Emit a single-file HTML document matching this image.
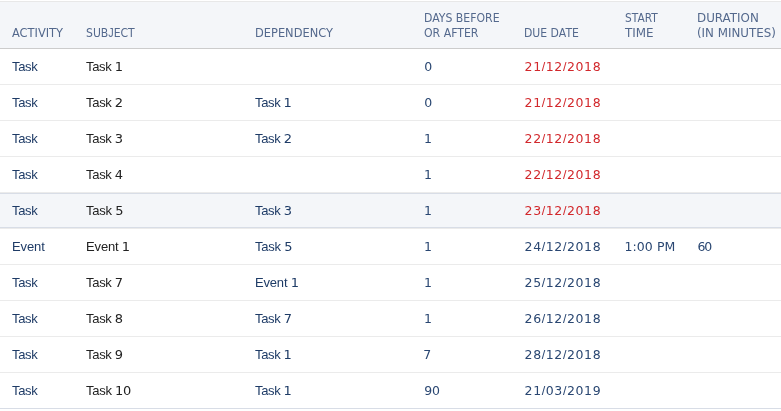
<!DOCTYPE html>
<html><head><meta charset="utf-8"><style>
html,body{margin:0;padding:0;background:#fff;}
body{width:781px;height:411px;overflow:hidden;position:relative;}
#w{position:absolute;left:0;top:0;width:781px;height:411px;will-change:transform;}
.l{position:absolute;left:0;width:781px;height:1px;}
.t{position:absolute;white-space:nowrap;line-height:20px;}
</style></head>
<body><div id="w">
<div class="l" style="top:1px;background:#e8e8e8"></div>
<div style="position:absolute;left:0;top:2px;width:781px;height:46px;background:#f4f6f9"></div>
<div class="l" style="top:48px;background:#cccccc"></div>
<div class="l" style="top:84px;background:#ebebeb"></div>
<div class="l" style="top:120px;background:#ebebeb"></div>
<div class="l" style="top:156px;background:#ebebeb"></div>
<div class="l" style="top:192px;background:#ebebeb"></div>
<div class="l" style="top:228px;background:#ebebeb"></div>
<div class="l" style="top:264px;background:#ebebeb"></div>
<div class="l" style="top:300px;background:#ebebeb"></div>
<div class="l" style="top:336px;background:#ebebeb"></div>
<div class="l" style="top:372px;background:#ebebeb"></div>
<div class="l" style="top:408px;background:#d8dde6"></div>
<div style="position:absolute;left:0;top:193px;width:781px;height:35px;background:#f4f6f9;box-shadow:inset 0 1px 0 #d8dde6,inset 0 -1px 0 #d8dde6"></div>
<div class="t" style="left:12.2px;top:23px;font-size:12px;font-family:'DejaVu Sans', sans-serif;letter-spacing:0px;color:#54698d;transform:scaleX(0.9519);transform-origin:0 0">ACTIVITY</div>
<div class="t" style="left:86.0px;top:23px;font-size:12px;font-family:'DejaVu Sans', sans-serif;letter-spacing:0px;color:#54698d;transform:scaleX(0.9037);transform-origin:0 0">SUB<span style="font-family:'Liberation Sans',sans-serif">J</span>ECT</div>
<div class="t" style="left:255.4px;top:23px;font-size:12px;font-family:'DejaVu Sans', sans-serif;letter-spacing:0px;color:#54698d;transform:scaleX(0.9512);transform-origin:0 0">DEPENDENCY</div>
<div class="t" style="left:424.1px;top:8px;font-size:12px;font-family:'DejaVu Sans', sans-serif;letter-spacing:0px;color:#54698d;transform:scaleX(0.9084);transform-origin:0 0">DAYS BEFORE</div>
<div class="t" style="left:424.1px;top:23px;font-size:12px;font-family:'DejaVu Sans', sans-serif;letter-spacing:0px;color:#54698d;transform:scaleX(0.9117);transform-origin:0 0">OR AFTER</div>
<div class="t" style="left:524.4px;top:23px;font-size:12px;font-family:'DejaVu Sans', sans-serif;letter-spacing:0px;color:#54698d;transform:scaleX(0.9049);transform-origin:0 0">DUE DATE</div>
<div class="t" style="left:625.0px;top:8px;font-size:12px;font-family:'DejaVu Sans', sans-serif;letter-spacing:0px;color:#54698d;transform:scaleX(0.8842);transform-origin:0 0">START</div>
<div class="t" style="left:625.0px;top:23px;font-size:12px;font-family:'DejaVu Sans', sans-serif;letter-spacing:0px;color:#54698d;transform:scaleX(0.9931);transform-origin:0 0">TIME</div>
<div class="t" style="left:697.3px;top:8px;font-size:12px;font-family:'DejaVu Sans', sans-serif;letter-spacing:0px;color:#54698d;transform:scaleX(0.9903);transform-origin:0 0">DURATION</div>
<div class="t" style="left:697.0px;top:23px;font-size:12px;font-family:'DejaVu Sans', sans-serif;letter-spacing:0px;color:#54698d;transform:scaleX(0.9875);transform-origin:0 0">(IN MINUTES)</div>
<div class="t" style="left:12px;top:57px;font-size:13px;font-family:'Liberation Sans', sans-serif;letter-spacing:-0.367px;color:#1e3b66">Task</div>
<div class="t" style="left:86.1px;top:57px;font-size:13px;font-family:'Liberation Sans', sans-serif;letter-spacing:-0.36px;color:#222222">Task <span style="font-family:'DejaVu Sans',sans-serif">1</span></div>
<div class="t" style="left:424.3px;top:57px;font-size:12.5px;font-family:'DejaVu Sans', sans-serif;letter-spacing:0px;color:#2a4772">0</div>
<div class="t" style="left:524.6px;top:57px;font-size:12.5px;font-family:'DejaVu Sans', sans-serif;letter-spacing:0.6px;color:#d2282c">21<span style="font-family:'Liberation Sans',sans-serif">/</span>12<span style="font-family:'Liberation Sans',sans-serif">/</span>2018</div>
<div class="t" style="left:12px;top:93px;font-size:13px;font-family:'Liberation Sans', sans-serif;letter-spacing:-0.367px;color:#1e3b66">Task</div>
<div class="t" style="left:86.1px;top:93px;font-size:13px;font-family:'Liberation Sans', sans-serif;letter-spacing:-0.32px;color:#222222">Task <span style="font-family:'DejaVu Sans',sans-serif">2</span></div>
<div class="t" style="left:255px;top:93px;font-size:13px;font-family:'Liberation Sans', sans-serif;letter-spacing:-0.36px;color:#1e3b66">Task <span style="font-family:'DejaVu Sans',sans-serif">1</span></div>
<div class="t" style="left:424.3px;top:93px;font-size:12.5px;font-family:'DejaVu Sans', sans-serif;letter-spacing:0px;color:#2a4772">0</div>
<div class="t" style="left:524.6px;top:93px;font-size:12.5px;font-family:'DejaVu Sans', sans-serif;letter-spacing:0.6px;color:#d2282c">21<span style="font-family:'Liberation Sans',sans-serif">/</span>12<span style="font-family:'Liberation Sans',sans-serif">/</span>2018</div>
<div class="t" style="left:12px;top:129px;font-size:13px;font-family:'Liberation Sans', sans-serif;letter-spacing:-0.367px;color:#1e3b66">Task</div>
<div class="t" style="left:86.1px;top:129px;font-size:13px;font-family:'Liberation Sans', sans-serif;letter-spacing:-0.32px;color:#222222">Task <span style="font-family:'DejaVu Sans',sans-serif">3</span></div>
<div class="t" style="left:255px;top:129px;font-size:13px;font-family:'Liberation Sans', sans-serif;letter-spacing:-0.32px;color:#1e3b66">Task <span style="font-family:'DejaVu Sans',sans-serif">2</span></div>
<div class="t" style="left:424px;top:129px;font-size:12.5px;font-family:'DejaVu Sans', sans-serif;letter-spacing:0px;color:#2a4772">1</div>
<div class="t" style="left:524.6px;top:129px;font-size:12.5px;font-family:'DejaVu Sans', sans-serif;letter-spacing:0.6px;color:#d2282c">22<span style="font-family:'Liberation Sans',sans-serif">/</span>12<span style="font-family:'Liberation Sans',sans-serif">/</span>2018</div>
<div class="t" style="left:12px;top:165px;font-size:13px;font-family:'Liberation Sans', sans-serif;letter-spacing:-0.367px;color:#1e3b66">Task</div>
<div class="t" style="left:86.1px;top:165px;font-size:13px;font-family:'Liberation Sans', sans-serif;letter-spacing:-0.32px;color:#222222">Task <span style="font-family:'DejaVu Sans',sans-serif">4</span></div>
<div class="t" style="left:424px;top:165px;font-size:12.5px;font-family:'DejaVu Sans', sans-serif;letter-spacing:0px;color:#2a4772">1</div>
<div class="t" style="left:524.6px;top:165px;font-size:12.5px;font-family:'DejaVu Sans', sans-serif;letter-spacing:0.6px;color:#d2282c">22<span style="font-family:'Liberation Sans',sans-serif">/</span>12<span style="font-family:'Liberation Sans',sans-serif">/</span>2018</div>
<div class="t" style="left:12px;top:201px;font-size:13px;font-family:'Liberation Sans', sans-serif;letter-spacing:-0.367px;color:#1e3b66">Task</div>
<div class="t" style="left:86.1px;top:201px;font-size:13px;font-family:'Liberation Sans', sans-serif;letter-spacing:-0.24px;color:#222222">Task <span style="font-family:'DejaVu Sans',sans-serif">5</span></div>
<div class="t" style="left:255px;top:201px;font-size:13px;font-family:'Liberation Sans', sans-serif;letter-spacing:-0.32px;color:#1e3b66">Task <span style="font-family:'DejaVu Sans',sans-serif">3</span></div>
<div class="t" style="left:424px;top:201px;font-size:12.5px;font-family:'DejaVu Sans', sans-serif;letter-spacing:0px;color:#2a4772">1</div>
<div class="t" style="left:524.6px;top:201px;font-size:12.5px;font-family:'DejaVu Sans', sans-serif;letter-spacing:0.6px;color:#d2282c">23<span style="font-family:'Liberation Sans',sans-serif">/</span>12<span style="font-family:'Liberation Sans',sans-serif">/</span>2018</div>
<div class="t" style="left:12px;top:237px;font-size:13px;font-family:'Liberation Sans', sans-serif;letter-spacing:-0.1px;color:#1e3b66">Event</div>
<div class="t" style="left:86.1px;top:237px;font-size:13px;font-family:'Liberation Sans', sans-serif;letter-spacing:-0.183px;color:#222222">Event <span style="font-family:'DejaVu Sans',sans-serif">1</span></div>
<div class="t" style="left:255px;top:237px;font-size:13px;font-family:'Liberation Sans', sans-serif;letter-spacing:-0.24px;color:#1e3b66">Task <span style="font-family:'DejaVu Sans',sans-serif">5</span></div>
<div class="t" style="left:424px;top:237px;font-size:12.5px;font-family:'DejaVu Sans', sans-serif;letter-spacing:0px;color:#2a4772">1</div>
<div class="t" style="left:524.6px;top:237px;font-size:12.5px;font-family:'DejaVu Sans', sans-serif;letter-spacing:0.6px;color:#2a4772">24<span style="font-family:'Liberation Sans',sans-serif">/</span>12<span style="font-family:'Liberation Sans',sans-serif">/</span>2018</div>
<div class="t" style="left:624.6px;top:237px;font-size:12.5px;font-family:'DejaVu Sans', sans-serif;letter-spacing:0.05px;color:#2a4772">1:00 PM</div>
<div class="t" style="left:697.4px;top:237px;font-size:12.5px;font-family:'DejaVu Sans', sans-serif;letter-spacing:-1.2px;color:#2a4772">60</div>
<div class="t" style="left:12px;top:273px;font-size:13px;font-family:'Liberation Sans', sans-serif;letter-spacing:-0.367px;color:#1e3b66">Task</div>
<div class="t" style="left:86.1px;top:273px;font-size:13px;font-family:'Liberation Sans', sans-serif;letter-spacing:-0.32px;color:#222222">Task <span style="font-family:'DejaVu Sans',sans-serif">7</span></div>
<div class="t" style="left:255px;top:273px;font-size:13px;font-family:'Liberation Sans', sans-serif;letter-spacing:-0.183px;color:#1e3b66">Event <span style="font-family:'DejaVu Sans',sans-serif">1</span></div>
<div class="t" style="left:424px;top:273px;font-size:12.5px;font-family:'DejaVu Sans', sans-serif;letter-spacing:0px;color:#2a4772">1</div>
<div class="t" style="left:524.6px;top:273px;font-size:12.5px;font-family:'DejaVu Sans', sans-serif;letter-spacing:0.6px;color:#2a4772">25<span style="font-family:'Liberation Sans',sans-serif">/</span>12<span style="font-family:'Liberation Sans',sans-serif">/</span>2018</div>
<div class="t" style="left:12px;top:309px;font-size:13px;font-family:'Liberation Sans', sans-serif;letter-spacing:-0.367px;color:#1e3b66">Task</div>
<div class="t" style="left:86.1px;top:309px;font-size:13px;font-family:'Liberation Sans', sans-serif;letter-spacing:-0.32px;color:#222222">Task <span style="font-family:'DejaVu Sans',sans-serif">8</span></div>
<div class="t" style="left:255px;top:309px;font-size:13px;font-family:'Liberation Sans', sans-serif;letter-spacing:-0.32px;color:#1e3b66">Task <span style="font-family:'DejaVu Sans',sans-serif">7</span></div>
<div class="t" style="left:424px;top:309px;font-size:12.5px;font-family:'DejaVu Sans', sans-serif;letter-spacing:0px;color:#2a4772">1</div>
<div class="t" style="left:524.6px;top:309px;font-size:12.5px;font-family:'DejaVu Sans', sans-serif;letter-spacing:0.6px;color:#2a4772">26<span style="font-family:'Liberation Sans',sans-serif">/</span>12<span style="font-family:'Liberation Sans',sans-serif">/</span>2018</div>
<div class="t" style="left:12px;top:345px;font-size:13px;font-family:'Liberation Sans', sans-serif;letter-spacing:-0.367px;color:#1e3b66">Task</div>
<div class="t" style="left:86.1px;top:345px;font-size:13px;font-family:'Liberation Sans', sans-serif;letter-spacing:-0.32px;color:#222222">Task <span style="font-family:'DejaVu Sans',sans-serif">9</span></div>
<div class="t" style="left:255px;top:345px;font-size:13px;font-family:'Liberation Sans', sans-serif;letter-spacing:-0.36px;color:#1e3b66">Task <span style="font-family:'DejaVu Sans',sans-serif">1</span></div>
<div class="t" style="left:423.3px;top:345px;font-size:12.5px;font-family:'DejaVu Sans', sans-serif;letter-spacing:0px;color:#2a4772">7</div>
<div class="t" style="left:524.6px;top:345px;font-size:12.5px;font-family:'DejaVu Sans', sans-serif;letter-spacing:0.6px;color:#2a4772">28<span style="font-family:'Liberation Sans',sans-serif">/</span>12<span style="font-family:'Liberation Sans',sans-serif">/</span>2018</div>
<div class="t" style="left:12px;top:381px;font-size:13px;font-family:'Liberation Sans', sans-serif;letter-spacing:-0.367px;color:#1e3b66">Task</div>
<div class="t" style="left:86.1px;top:381px;font-size:13px;font-family:'Liberation Sans', sans-serif;letter-spacing:-0.267px;color:#222222">Task <span style="font-family:'DejaVu Sans',sans-serif">10</span></div>
<div class="t" style="left:255px;top:381px;font-size:13px;font-family:'Liberation Sans', sans-serif;letter-spacing:-0.36px;color:#1e3b66">Task <span style="font-family:'DejaVu Sans',sans-serif">1</span></div>
<div class="t" style="left:424.3px;top:381px;font-size:12.5px;font-family:'DejaVu Sans', sans-serif;letter-spacing:-0.2px;color:#2a4772">90</div>
<div class="t" style="left:524.6px;top:381px;font-size:12.5px;font-family:'DejaVu Sans', sans-serif;letter-spacing:0.6px;color:#2a4772">21<span style="font-family:'Liberation Sans',sans-serif">/</span>03<span style="font-family:'Liberation Sans',sans-serif">/</span>2019</div>
</div></body></html>
